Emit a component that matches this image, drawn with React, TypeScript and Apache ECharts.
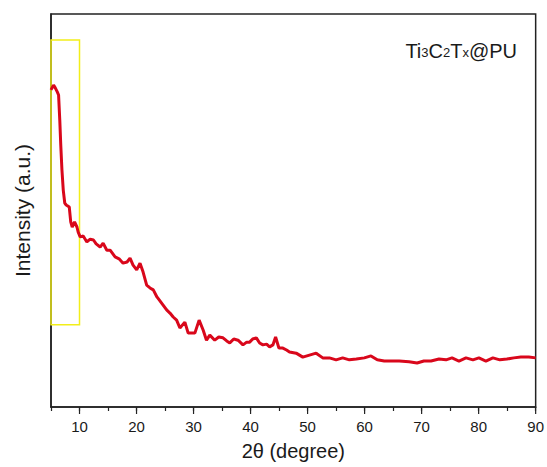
import React, { useEffect, useRef } from "react";
import * as echarts from "echarts";

const twoTheta: number[] = [
  5.0, 5.45, 5.75, 6.1, 6.33, 6.54, 6.71, 6.92, 7.15, 7.41, 7.67, 8.2, 8.46, 8.72, 9.13, 9.55, 9.77,
  10.12, 10.65, 11.29, 11.87, 12.45, 12.92, 13.62, 14.14, 14.79, 15.37, 16.24, 16.94, 17.64, 18.34,
  18.86, 19.39, 20.03, 20.61, 21.14, 21.78, 22.36, 22.94, 23.58, 24.11, 24.63, 25.28, 25.86, 26.43,
  27.03, 27.61, 28.48, 29.06, 29.7, 30.23, 30.98, 31.68, 32.27, 32.85, 33.72, 34.42, 35.17, 35.82,
  36.35, 37.05, 37.8, 38.67, 39.32, 39.84, 40.37, 41.01, 41.59, 42.17, 42.81, 43.34, 43.92, 44.39,
  44.97, 45.66, 46.31, 46.83, 48.0, 49.16, 50.33, 51.5, 52.66, 53.83, 55.0, 56.15, 57.33, 58.55,
  59.95, 61.12, 62.22, 63.44, 64.67, 66.07, 67.8, 69.2, 70.4, 71.65, 73.05, 74.28, 75.33, 76.55,
  77.78, 79.0, 80.05, 81.27, 82.5, 83.72, 84.95, 86.17, 87.4, 88.8, 90.0,
];

const intensity: number[] = [
  80.7, 81.9, 81.2, 80.2, 79.4, 73.0, 66.7, 60.3, 55.2, 51.9, 51.4, 50.9, 47.1, 45.8, 47.1, 45.8, 44.5,
  43.3, 43.5, 42.0, 42.7, 42.5, 41.5, 40.7, 41.7, 39.9, 39.9, 38.2, 37.7, 36.6, 36.9,
  37.9, 36.1, 34.9, 36.6, 34.4, 31.0, 30.3, 29.8, 28.0, 27.0, 26.0, 24.7, 23.9, 22.9,
  22.1, 20.1, 21.6, 18.8, 18.8, 18.8, 22.1, 19.6, 17.0, 18.3, 17.0, 17.8, 17.6, 16.8,
  16.3, 17.3, 17.0, 15.8, 16.5, 16.5, 17.3, 17.6, 16.3, 15.8, 16.0, 15.3, 15.8, 17.8,
  15.0, 15.0, 14.5, 14.0, 13.7, 12.7, 13.2, 13.7, 12.5, 12.5, 12.0, 12.5, 12.0, 12.2,
  12.5, 13.0, 12.0, 11.7, 11.7, 11.7, 11.5, 11.2, 11.7, 11.7, 12.2, 12.0, 12.5, 11.7,
  12.5, 12.0, 12.5, 11.7, 12.5, 12.0, 12.2, 12.5, 12.7, 12.7, 12.5,
];

const xTicks: number[] = [10, 20, 30, 40, 50, 60, 70, 80, 90];
const boxRange = { x: [5, 10], y: [20.9, 93.4] };
const sampleLabel = ["Ti", "3", "C", "2", "T", "x", "@PU"];

export default function App() {
  const ref = useRef<HTMLDivElement>(null);
  useEffect(() => {
    if (!ref.current) return;
    const chart = echarts.init(ref.current, null, { renderer: "svg" });
    const data = twoTheta.map((t, i) => [t, intensity[i]]);
    const font = "Liberation Sans, Arial, sans-serif";
    const richText =
      `{b|${sampleLabel[0]}}{s|${sampleLabel[1]}}{b|${sampleLabel[2]}}{s|${sampleLabel[3]}}` +
      `{b|${sampleLabel[4]}}{s|${sampleLabel[5]}}{b|${sampleLabel[6]}}`;
    chart.setOption({
      animation: false,
      backgroundColor: "#ffffff",
      grid: {
        left: 51,
        top: 14,
        right: 10,
        bottom: 60,
        show: true,
        borderColor: "#222",
        borderWidth: 1.5,
      },
      xAxis: {
        type: "value",
        min: 5,
        max: 90,
        interval: 5,
        name: "2θ (degree)",
        nameLocation: "middle",
        nameGap: 34,
        nameTextStyle: { fontFamily: font, fontSize: 20, color: "#1a1a1a" },
        axisLine: { show: true, onZero: false, lineStyle: { color: "#222", width: 1.5 } },
        axisTick: {
          show: true,
          inside: false,
          length: 4,
          lineStyle: { color: "#222", width: 1.2 },
          interval: 0,
        },
        axisLabel: {
          fontFamily: font,
          fontSize: 15,
          color: "#1a1a1a",
          margin: 12,
          formatter: (v: number) => (xTicks.includes(v) ? String(v) : ""),
        },
        splitLine: { show: false },
      },
      yAxis: {
        type: "value",
        min: 0,
        max: 100,
        name: "Intensity (a.u.)",
        nameLocation: "middle",
        nameGap: 18,
        nameTextStyle: { fontFamily: font, fontSize: 21, color: "#1a1a1a" },
        axisLine: { show: true, lineStyle: { color: "#222", width: 1.5 } },
        axisTick: { show: false },
        axisLabel: { show: false },
        splitLine: { show: false },
      },
      graphic: [
        {
          type: "text",
          right: 30,
          top: 41,
          style: {
            text: richText,
            rich: {
              b: { fontFamily: font, fontSize: 20, fill: "#1a1a1a" },
              s: { fontFamily: font, fontSize: 13, fill: "#1a1a1a", verticalAlign: "bottom", padding: [0, 0, 2, 0] },
            },
          },
        },
        {
          type: "group",
          silent: true,
          children: xTicks.map((t) => ({
            type: "line",
            shape: { x1: 0, y1: 0, x2: 0, y2: 0 },
            invisible: true,
            id: "t" + t,
          })),
        },
      ],
      series: [
        {
          type: "line",
          data,
          showSymbol: false,
          lineStyle: { color: "#d9071b", width: 3 },
          markArea: {
            silent: true,
            itemStyle: { color: "rgba(0,0,0,0)", borderColor: "#f2ee1a", borderWidth: 1.5 },
            data: [
              [
                { coord: [boxRange.x[0], boxRange.y[1]] },
                { coord: [boxRange.x[1], boxRange.y[0]] },
              ],
            ],
          },
        },
      ],
    });
    // longer ticks at the labelled (major) positions
    const grid = { left: 51, bottom: 467 - 60 };
    chart.setOption({
      graphic: xTicks.map((t) => {
        const px = chart.convertToPixel({ xAxisIndex: 0 }, t);
        return {
          type: "line",
          id: "t" + t,
          invisible: false,
          shape: { x1: px, y1: grid.bottom, x2: px, y2: grid.bottom + 7 },
          style: { stroke: "#222", lineWidth: 1.2 },
          silent: true,
        };
      }),
    });
    return () => chart.dispose();
  }, []);
  return <div ref={ref} style={{ width: 547, height: 467, position: "absolute", left: 0, top: 0 }} />;
}
